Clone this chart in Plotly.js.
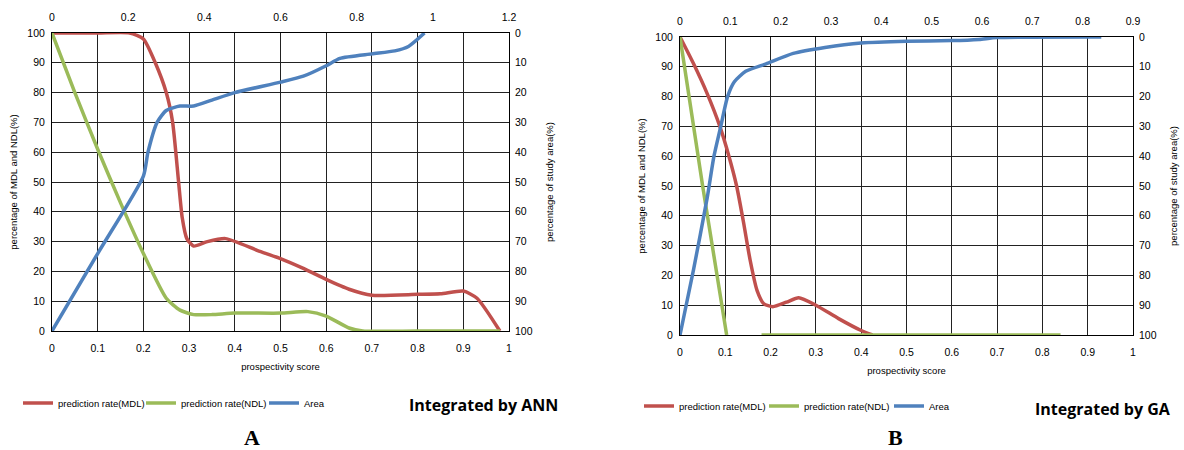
<!DOCTYPE html>
<html><head><meta charset="utf-8">
<script src="https://cdn.plot.ly/plotly-3.0.1.min.js"></script>
<style>html,body{margin:0;padding:0;background:#fff}#chart{width:1184px;height:450px}</style>
</head><body><div id="chart"></div>
<script>
// Panel A (Integrated by ANN) — bottom axis: prospectivity score, left axis: % of MDL/NDL
const A_mdl_x = [0, 0.1, 0.17, 0.2, 0.226, 0.25, 0.264, 0.277, 0.285, 0.295, 0.31, 0.34, 0.38, 0.45, 0.5, 0.55, 0.6, 0.65, 0.7, 0.8, 0.85, 0.9, 0.93, 0.98];
const A_mdl_y = [100, 100, 100, 98, 90, 80, 70, 50, 38, 31, 28.5, 30, 31, 27, 24.3, 21, 17.3, 14, 12, 12.3, 12.5, 13.4, 11, 0];
const A_ndl_x = [0, 0.05, 0.1, 0.15, 0.2, 0.25, 0.28, 0.31, 0.35, 0.4, 0.5, 0.56, 0.6, 0.65, 0.68, 0.8, 0.98];
const A_ndl_y = [100, 80, 61, 43, 26, 11, 7, 5.5, 5.5, 6, 6, 6.5, 5, 1, 0, 0, 0];
// Area — top axis (score 0–1.2) and right axis (study area %, reversed)
const A_area_x = [0, 0.12, 0.24, 0.252, 0.276, 0.30, 0.336, 0.372, 0.42, 0.48, 0.60, 0.66, 0.72, 0.756, 0.84, 0.90, 0.936, 0.978];
const A_area_y = [100, 74, 48, 40, 30, 26, 24.5, 24.5, 22.5, 20, 16.5, 14.5, 11, 8.5, 7, 6, 4.5, 0];

// Panel B (Integrated by GA)
const B_mdl_x = [0, 0.03, 0.06, 0.088, 0.108, 0.125, 0.14, 0.155, 0.17, 0.185, 0.205, 0.235, 0.262, 0.3, 0.35, 0.4, 0.425];
const B_mdl_y = [100, 91, 81, 70, 60, 50, 38, 25, 15, 10.5, 9.5, 11, 12.5, 10, 5.5, 1.5, 0];
const B_ndl_x = [0, 0.05, 0.103, null, 0.18, 0.84];
const B_ndl_y = [100, 50, 0, null, 0, 0];
const B_area_x = [0, 0.027, 0.054, 0.0675, 0.081, 0.0945, 0.108, 0.1305, 0.171, 0.225, 0.288, 0.36, 0.45, 0.54, 0.594, 0.63, 0.837];
const B_area_y = [100, 78, 54, 40, 30, 20, 15, 11.5, 9, 5.5, 3.5, 2, 1.4, 1.2, 0.8, 0.2, 0];

const names = ['prediction rate(MDL)', 'prediction rate(NDL)', 'Area'];
const colors = ['#C0504D', '#9BBB59', '#4F81BD'];
const axisTitles = ['prospectivity score', 'percentage of MDL and NDL(%)', 'percentage of study area(%)'];

const F = 'Liberation Sans, Arial, sans-serif';
const lw = 3.5;
function tr(x, y, xa, ya, i, lg) {
  return {x: x, y: y, xaxis: xa, yaxis: ya, type: 'scatter', mode: 'lines', name: names[i],
    line: {color: colors[i], width: lw, shape: 'spline', smoothing: 0.6}, legend: lg, connectgaps: false};
}
const data = [
  tr(A_mdl_x, A_mdl_y, 'x', 'y', 0, 'legend'),
  tr(A_ndl_x, A_ndl_y, 'x', 'y', 1, 'legend'),
  tr(A_area_x, A_area_y, 'x2', 'y2', 2, 'legend'),
  tr(B_mdl_x, B_mdl_y, 'x3', 'y3', 0, 'legend2'),
  tr(B_ndl_x, B_ndl_y, 'x3', 'y3', 1, 'legend2'),
  tr(B_area_x, B_area_y, 'x4', 'y4', 2, 'legend2')
];
data[4].line.shape = 'linear';

const tf = {family: F, size: 10.5, color: '#000'};
const ttf = {family: F, size: 9.5, color: '#000'};
const domA = [52/1184, 509/1184], domB = [680/1184, 1133/1184];
const ydA = [1 - 331/450, 1 - 33/450], ydB = [1 - 335/450, 1 - 37/450];

function botX(dom, anchor) {
  return {domain: dom, anchor: anchor, range: [0, 1], dtick: 0.1, tick0: 0, showgrid: true, gridcolor: '#222', gridwidth: 1,
    showline: true, linecolor: '#000', linewidth: 1, mirror: true, zeroline: false, ticks: '', tickfont: tf,
    ticklabelstandoff: 7, title: {text: axisTitles[0], font: ttf, standoff: 10}, fixedrange: true};
}
function topX(over, anchor, max, dt) {
  return {overlaying: over, anchor: anchor, side: 'top', range: [0, max], dtick: dt, tick0: 0, showgrid: false,
    zeroline: false, ticks: '', tickfont: tf, showline: false, ticklabelstandoff: 9};
}
function leftY(dom, anchor) {
  return {domain: dom, anchor: anchor, range: [0, 100], dtick: 10, showgrid: true, gridcolor: '#222', gridwidth: 1,
    showline: true, linecolor: '#000', linewidth: 1, mirror: true, zeroline: false, ticks: '', tickfont: tf,
    ticklabelstandoff: 4, title: {text: axisTitles[1], font: ttf, standoff: 8}};
}
function rightY(over, anchor) {
  return {overlaying: over, anchor: anchor, side: 'right', range: [100, 0], dtick: 10, showgrid: false, zeroline: false,
    ticks: '', tickfont: tf, ticklabelstandoff: 5, title: {text: axisTitles[2], font: ttf, standoff: 14}};
}

const legFont = {family: F, size: 9.5, color: '#000'};
const layout = {
  width: 1184, height: 450, margin: {l: 0, r: 0, t: 0, b: 0},
  paper_bgcolor: '#fff', plot_bgcolor: '#fff', font: {family: F, color: '#000'},
  xaxis: botX(domA, 'y'), xaxis2: topX('x', 'y', 1.2, 0.2),
  yaxis: leftY(ydA, 'x'), yaxis2: rightY('y', 'x'),
  xaxis3: botX(domB, 'y3'), xaxis4: topX('x3', 'y3', 0.9, 0.1),
  yaxis3: leftY(ydB, 'x3'), yaxis4: rightY('y3', 'x3'),
  showlegend: true,
  legend: {orientation: 'h', x: 18/1184, y: 1 - 403/450, xanchor: 'left', yanchor: 'middle', font: legFont,
    bgcolor: 'rgba(0,0,0,0)', entrywidth: 78, entrywidthmode: 'pixels', tracegroupgap: 0},
  legend2: {orientation: 'h', x: 639/1184, y: 1 - 406/450, xanchor: 'left', yanchor: 'middle', font: legFont,
    bgcolor: 'rgba(0,0,0,0)', entrywidth: 80, entrywidthmode: 'pixels', tracegroupgap: 0},
  annotations: [
    {text: '<b>Integrated by ANN</b>', xref: 'paper', yref: 'paper', x: 483/1184, y: 1 - 405/450, showarrow: false,
      xanchor: 'center', yanchor: 'middle', font: {family: 'Open Sans, sans-serif', size: 16, color: '#000'}},
    {text: '<b>Integrated by GA</b>', xref: 'paper', yref: 'paper', x: 1103/1184, y: 1 - 409/450, showarrow: false,
      xanchor: 'center', yanchor: 'middle', font: {family: 'Open Sans, sans-serif', size: 16, color: '#000'}},
    {text: '<b>A</b>', xref: 'paper', yref: 'paper', x: 252/1184, y: 1 - 437/450, showarrow: false,
      xanchor: 'center', yanchor: 'middle', font: {family: 'Liberation Serif, serif', size: 22, color: '#000'}},
    {text: '<b>B</b>', xref: 'paper', yref: 'paper', x: 895/1184, y: 1 - 437/450, showarrow: false,
      xanchor: 'center', yanchor: 'middle', font: {family: 'Liberation Serif, serif', size: 22, color: '#000'}}
  ]
};
Plotly.newPlot('chart', data, layout, {staticPlot: true, displayModeBar: false});
</script></body></html>
